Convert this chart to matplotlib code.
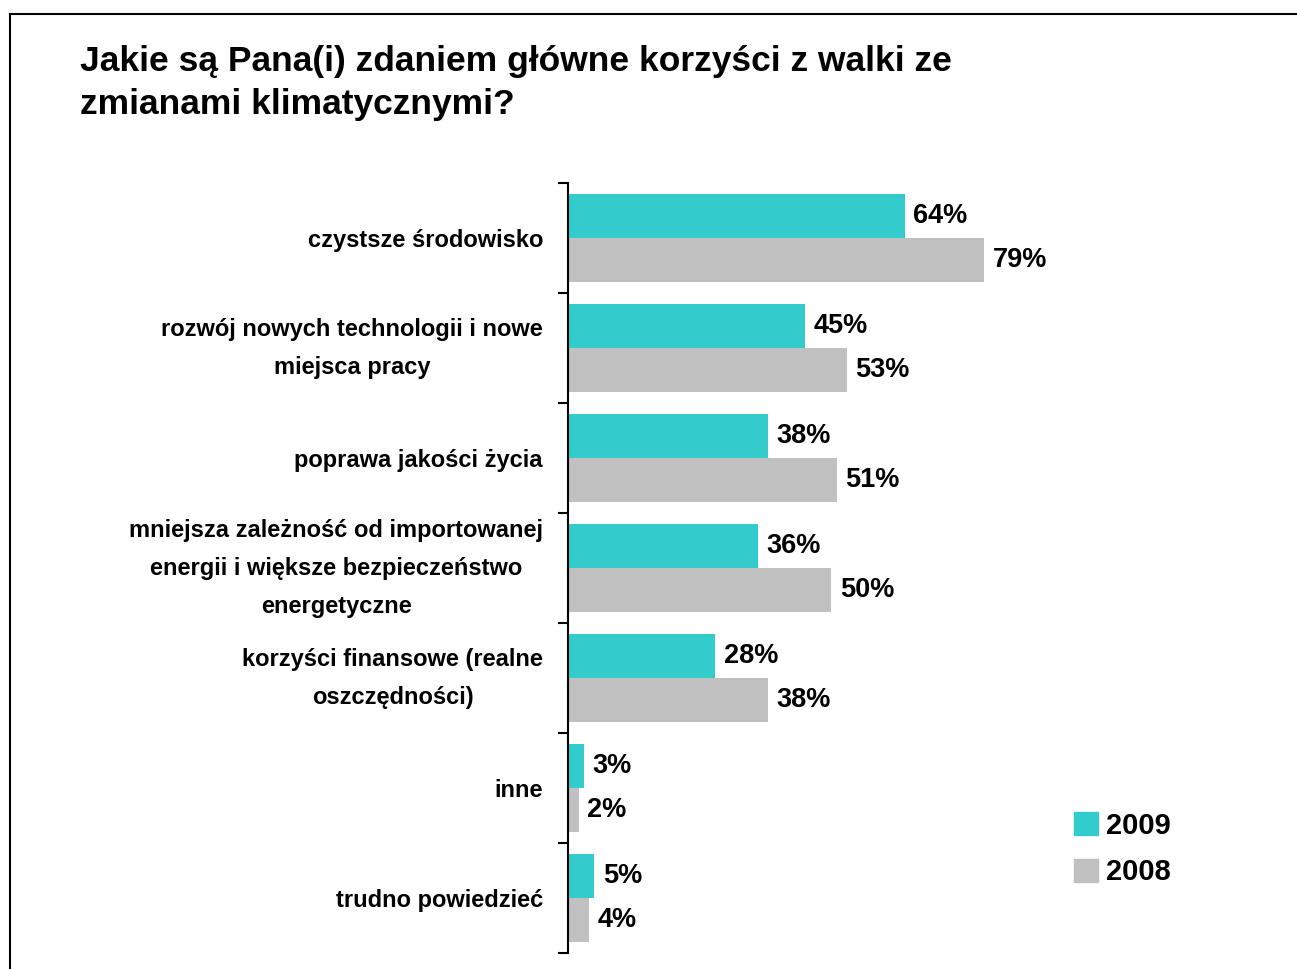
import numpy as np
import matplotlib
matplotlib.use("Agg")
import matplotlib.pyplot as plt
import matplotlib.transforms as mtransforms
from matplotlib.lines import Line2D
from matplotlib.patches import Patch

TITLE = "Jakie są Pana(i) zdaniem główne korzyści z walki ze\nzmianami klimatycznymi?"
CATEGORIES = [
    "czystsze środowisko",
    "rozwój nowych technologii i nowe\nmiejsca pracy",
    "poprawa jakości życia",
    "mniejsza zależność od importowanej\nenergii i większe bezpieczeństwo\nenergetyczne",
    "korzyści finansowe (realne\noszczędności)",
    "inne",
    "trudno powiedzieć",
]
VALUES_2009 = [64, 45, 38, 36, 28, 3, 5]
VALUES_2008 = [79, 53, 51, 50, 38, 2, 4]
SERIES = ["2009", "2008"]
COLORS = ["#33CCCC", "#C0C0C0"]

plt.rcParams["font.family"] = ["Liberation Sans", "DejaVu Sans"]

W, H = 1297, 969
fig = plt.figure(figsize=(W / 100, H / 100), dpi=100)

# outer frame (left + top edges only visible)
fig.add_artist(Line2D([10 / W, 10 / W], [0, 1 - 14 / H], color="black", lw=1.5))
fig.add_artist(Line2D([10 / W, 1], [1 - 14 / H, 1 - 14 / H], color="black", lw=1.5))

fig.text(80 / W, 1 - 45 / H, TITLE, fontsize=25.5, fontweight="bold",
         va="top", ha="left", linespacing=1.4)

ax = fig.add_axes([568 / W, 1 - 953 / H, (1200 - 568) / W, (953 - 183) / H])
n = len(CATEGORIES)
y = np.arange(n)
bh = 0.4
ax.barh(y - bh / 2, VALUES_2009, height=bh, color=COLORS[0])
ax.barh(y + bh / 2, VALUES_2008, height=bh, color=COLORS[1])
ax.set_ylim(n - 0.5, -0.5)
ax.set_xlim(0, 120)

for yi, v in zip(y, VALUES_2009):
    ax.text(v + 1.6, yi - bh / 2, f"{v}%", va="center", ha="left",
            fontsize=19.5, fontweight="bold")
for yi, v in zip(y, VALUES_2008):
    ax.text(v + 1.6, yi + bh / 2, f"{v}%", va="center", ha="left",
            fontsize=19.5, fontweight="bold")

for s in ["top", "right", "bottom"]:
    ax.spines[s].set_visible(False)
ax.spines["left"].set_linewidth(1.5)
ax.set_xticks([])
ax.set_yticks(y)
ax.set_yticklabels(CATEGORIES, fontsize=17, fontweight="bold",
                   multialignment="center", linespacing=1.85)
ax.tick_params(axis="y", which="major", length=0, pad=18)
ax.set_yticks(np.arange(n + 1) - 0.5, minor=True)
ax.tick_params(axis="y", which="minor", length=7, width=1.5)

# multi-line labels sit a bit low with the wide line spacing; nudge them up
shift = mtransforms.ScaledTranslation(0, 9.5 / 100, fig.dpi_scale_trans)
for lab in ax.get_yticklabels():
    if "\n" in lab.get_text():
        lab.set_transform(lab.get_transform() + shift)

handles = [Patch(color=c) for c in COLORS]
fig.legend(handles, SERIES, loc="center left",
           bbox_to_anchor=(1048 / W, 1 - 849 / H), frameon=False,
           prop={"size": 21, "weight": "bold"}, handlelength=0.8,
           handleheight=0.8, handletextpad=0.3, labelspacing=0.65)

fig.savefig("out.png", dpi=100)
